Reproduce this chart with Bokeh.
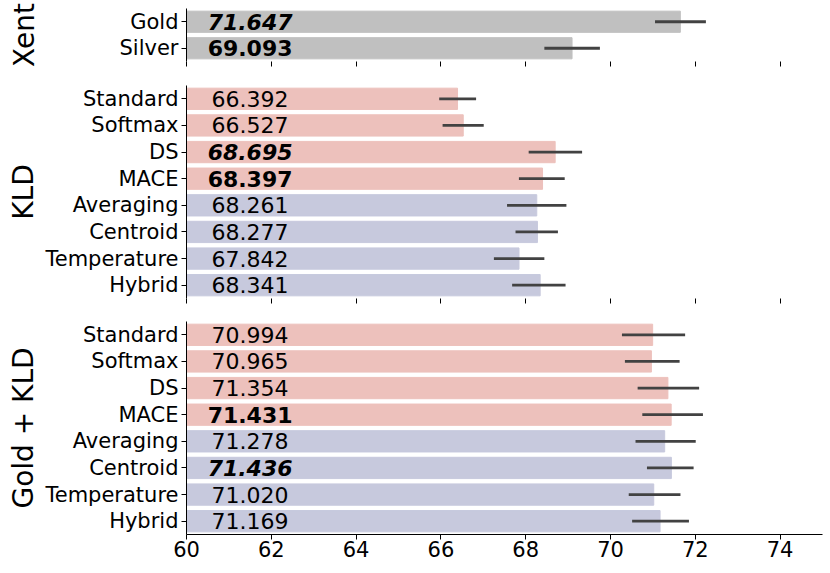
from bokeh.plotting import figure
from bokeh.models import ColumnDataSource, FactorRange, Range1d, FixedTicker
from bokeh.layouts import column
from bokeh.embed import file_html
from bokeh.resources import INLINE
from bokeh.core.properties import value

# ---------------- data ----------------
x_ticks = [60, 62, 64, 66, 68, 70, 72, 74]

xent_methods = ["Gold", "Silver"]
xent_mean = [71.647, 69.093]
xent_lo = [71.05, 68.44]
xent_hi = [72.25, 69.75]
xent_style = ["bold italic", "bold"]

kld_methods = ["Standard", "Softmax", "DS", "MACE", "Averaging", "Centroid", "Temperature", "Hybrid"]
kld_mean = [66.392, 66.527, 68.695, 68.397, 68.261, 68.277, 67.842, 68.341]
kld_lo = [65.96, 66.04, 68.07, 67.84, 67.56, 67.76, 67.25, 67.68]
kld_hi = [66.83, 67.01, 69.33, 68.92, 68.96, 68.76, 68.44, 68.94]
kld_style = ["normal", "normal", "bold italic", "bold", "normal", "normal", "normal", "normal"]

gk_methods = ["Standard", "Softmax", "DS", "MACE", "Averaging", "Centroid", "Temperature", "Hybrid"]
gk_mean = [70.994, 70.965, 71.354, 71.431, 71.278, 71.436, 71.020, 71.169]
gk_lo = [70.27, 70.34, 70.64, 70.75, 70.59, 70.86, 70.43, 70.51]
gk_hi = [71.76, 71.63, 72.09, 72.18, 72.01, 71.96, 71.65, 71.85]
gk_style = ["normal", "normal", "normal", "bold", "normal", "bold italic", "normal", "normal"]

# ---------------- styles ----------------
FONT = "DejaVu Sans"
FONT_VALUE = value(FONT)
GRAY = "#c0c0c0"
RED = "#edc1bc"
BLUE = "#c7c9dd"
ERR = "#424242"
ENSEMBLE = {"Averaging", "Centroid", "Temperature", "Hybrid"}
LABEL_X = 61.5
X_START, X_END = 60, 75
LEFT = 186
RIGHT = 4
W = LEFT + 636 + RIGHT


def colors_for(methods, default=None):
    if default is not None:
        return [default for _ in methods]
    return [BLUE if m in ENSEMBLE else RED for m in methods]


def panel(methods, mean, lo, hi, style, colors, ylabel, label_standoff,
          height, top, bottom, show_x, x_range):
    src = ColumnDataSource(dict(
        method=methods, mean=mean, lo=lo, hi=hi, style=style, color=colors,
        label=["%.3f" % v for v in mean],
    ))
    p = figure(width=W, height=height, output_backend="svg", toolbar_location=None,
               x_range=x_range, y_range=FactorRange(factors=list(reversed(methods))),
               min_border_left=LEFT, min_border_right=RIGHT,
               min_border_top=top, min_border_bottom=bottom)
    p.outline_line_color = None
    p.xgrid.visible = False
    p.ygrid.visible = False
    p.background_fill_color = "white"
    p.border_fill_color = "white"

    p.hbar(y="method", left=0, right="mean", height=0.8, fill_color="color",
           line_color="color", source=src)
    p.segment(x0="lo", y0="method", x1="hi", y1="method", line_color=ERR,
              line_width=2.8, source=src)
    p.text(x=LABEL_X, y="method", text="label", text_font_style="style",
           text_font=FONT_VALUE, text_font_size="22px", text_align="center",
           text_baseline="middle", text_color="black", source=src)

    ya = p.yaxis[0]
    ya.axis_label = ylabel
    ya.axis_label_text_font = FONT
    ya.axis_label_text_font_size = "28px"
    ya.axis_label_text_font_style = "normal"
    ya.axis_label_text_color = "black"
    ya.axis_label_standoff = label_standoff
    ya.major_label_text_font = FONT
    ya.major_label_text_font_size = "21px"
    ya.major_label_text_color = "black"
    ya.major_label_standoff = 3
    ya.major_tick_out = 5
    ya.major_tick_in = 0
    ya.major_tick_line_color = "black"
    ya.axis_line_color = "black"

    xa = p.xaxis[0]
    xa.ticker = FixedTicker(ticks=x_ticks)
    xa.major_tick_out = 5
    xa.major_tick_in = 0
    xa.minor_tick_out = 0
    xa.minor_tick_in = 0
    xa.major_tick_line_color = "black"
    if show_x:
        xa.axis_line_color = "black"
        xa.major_label_text_font = FONT
        xa.major_label_text_font_size = "21px"
        xa.major_label_text_color = "black"
        xa.major_label_standoff = 1
    else:
        xa.axis_line_color = None
        xa.major_label_text_font_size = "0px"
        xa.major_label_text_color = None
        xa.major_label_standoff = 0
    return p


xr = Range1d(X_START, X_END)
p1 = panel(xent_methods, xent_mean, xent_lo, xent_hi, xent_style,
           colors_for(xent_methods, GRAY), "Xent", 76, 84, 8, 23, False, xr)
p2 = panel(kld_methods, kld_mean, kld_lo, kld_hi, kld_style,
           colors_for(kld_methods), "KLD", 2, 236, 1, 22, False, xr)
p3 = panel(gk_methods, gk_mean, gk_lo, gk_hi, gk_style,
           colors_for(gk_methods), "Gold + KLD", 2, 243, 1, 29, True, xr)

layout = column(p1, p2, p3, spacing=0)
open("out.html", "w").write(file_html(layout, INLINE))
